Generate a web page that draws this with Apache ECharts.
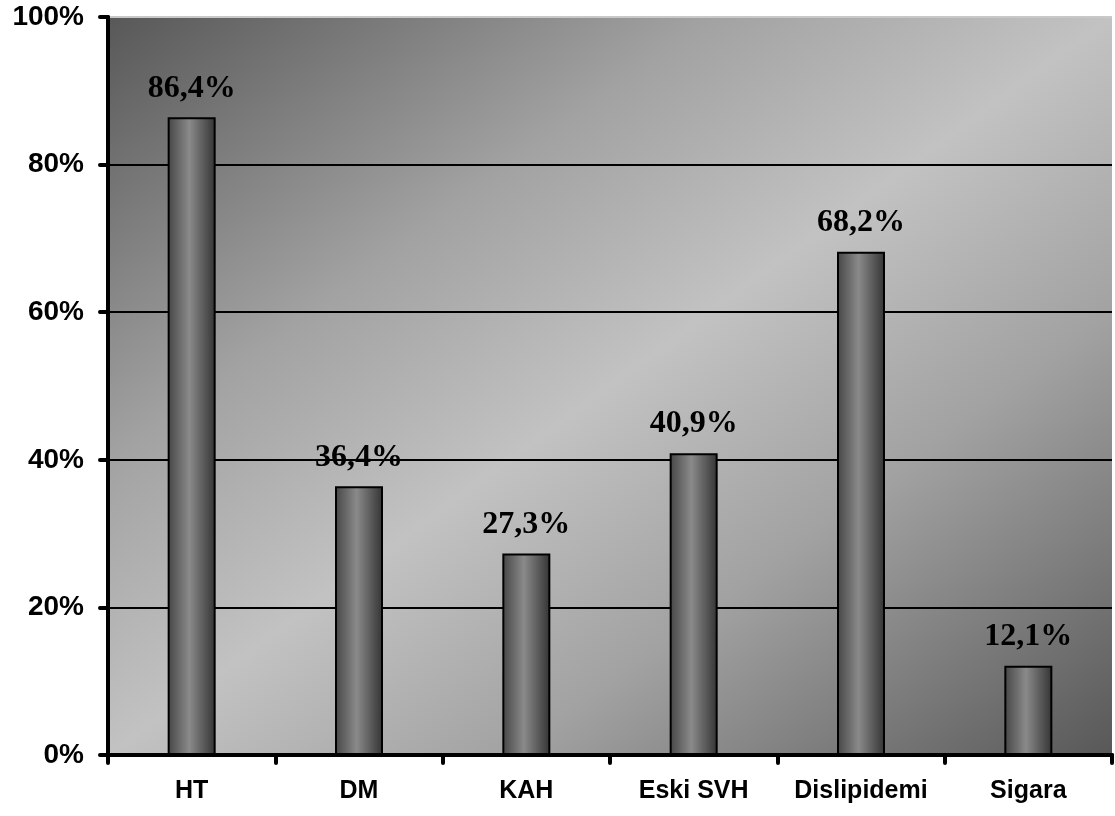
<!DOCTYPE html>
<html>
<head>
<meta charset="utf-8">
<script src="https://cdn.jsdelivr.net/npm/echarts@6/dist/echarts.min.js"></script>
<style>
  html, body { margin: 0; padding: 0; background: #ffffff; }
  #chart { width: 1115px; height: 816px; }
</style>
</head>
<body>
<div id="chart"></div>
<script>
// Risk factor prevalence (%)
const categories = ['HT', 'DM', 'KAH', 'Eski SVH', 'Dislipidemi', 'Sigara'];
const values = [86.4, 36.4, 27.3, 40.9, 68.2, 12.1];
const yTicks = [0, 20, 40, 60, 80, 100];

const chart = echarts.init(document.getElementById('chart'));

chart.setOption({
  animation: false,
  backgroundColor: '#ffffff',
  grid: {
    left: 108, right: 3, top: 17, bottom: 61,
    show: true,
    borderWidth: 0,
    // dark corners top-left / bottom-right, light band along the other diagonal
    backgroundColor: {
      type: 'linear', x: 0.149, y: -0.149, x2: 0.851, y2: 1.149,
      colorStops: [
        { offset: 0, color: '#585858' },
        { offset: 0.3, color: '#a2a2a2' },
        { offset: 0.5, color: '#c2c2c2' },
        { offset: 0.7, color: '#a2a2a2' },
        { offset: 1, color: '#585858' }
      ]
    }
  },
  xAxis: {
    type: 'category',
    data: categories,
    boundaryGap: true,
    axisLine: { lineStyle: { color: '#000', width: 4 } },
    axisTick: { show: true, interval: 0, length: 8, alignWithLabel: false, lineStyle: { color: '#000', width: 4, cap: 'round' } },
    axisLabel: {
      interval: 0,
      margin: 24,
      color: '#000',
      fontFamily: 'Liberation Sans, Arial, sans-serif',
      fontWeight: 'bold',
      fontSize: 25
    }
  },
  yAxis: {
    type: 'value',
    min: yTicks[0],
    max: yTicks[yTicks.length - 1],
    interval: 20,
    axisLine: { show: true, lineStyle: { color: '#000', width: 4 } },
    axisTick: { show: true, length: 8, lineStyle: { color: '#000', width: 4, cap: 'round' } },
    axisLabel: {
      margin: 24,
      color: '#000',
      fontFamily: 'Liberation Sans, Arial, sans-serif',
      fontWeight: 'bold',
      fontSize: 28,
      formatter: '{value}%'
    },
    splitLine: {
      show: true,
      lineStyle: { color: ['#000', '#000', '#000', '#000', '#000', '#c8c8c8'], width: 2 }
    }
  },
  series: [{
    type: 'bar',
    data: values,
    barWidth: 48,
    itemStyle: {
      borderColor: '#000',
      borderWidth: 2,
      color: {
        type: 'linear', x: 0, y: 0, x2: 1, y2: 0,
        colorStops: [
          { offset: 0, color: '#454545' },
          { offset: 0.45, color: '#8a8a8a' },
          { offset: 1, color: '#333333' }
        ]
      }
    },
    label: {
      show: true,
      position: 'top',
      distance: 13,
      color: '#000',
      fontFamily: 'Liberation Serif, Times New Roman, serif',
      fontWeight: 'bold',
      fontSize: 32,
      formatter: p => p.value.toFixed(1).replace('.', ',') + '%'
    }
  }]
});
</script>
</body>
</html>
